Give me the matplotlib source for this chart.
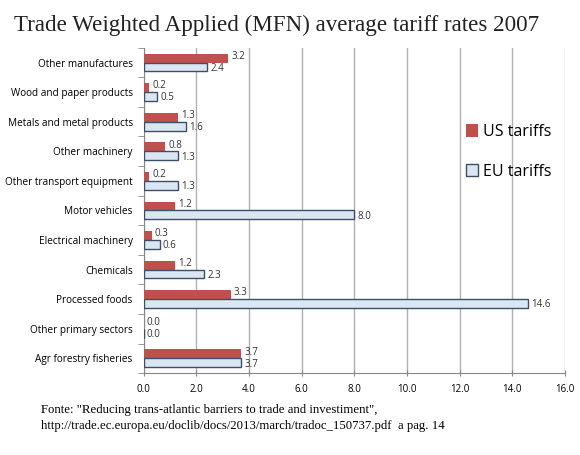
import numpy as np
import matplotlib.pyplot as plt

categories = ['Other manufactures', 'Wood and paper products', 'Metals and metal products',
              'Other machinery', 'Other transport equipment', 'Motor vehicles',
              'Electrical machinery', 'Chemicals', 'Processed foods',
              'Other primary sectors', 'Agr forestry fisheries']
us_tariffs = [3.2, 0.2, 1.3, 0.8, 0.2, 1.2, 0.3, 1.2, 3.3, 0.0, 3.7]
eu_tariffs = [2.4, 0.5, 1.6, 1.3, 1.3, 8.0, 0.6, 2.3, 14.6, 0.0, 3.7]
xticks = np.arange(0, 17, 2)

fig = plt.figure(figsize=(5.8, 4.55), dpi=100)
ax = fig.add_axes([0.248, 0.180, 0.726, 0.715])

n = len(categories)
y = np.arange(n)[::-1]  # first category at the top
h = 0.3

ax.barh(y + h / 2, us_tariffs, height=h, color='#c0504d', label='US tariffs', zorder=3)
ax.barh(y - h / 2, eu_tariffs, height=h, color='#dce6f2', edgecolor='#3b5068',
        linewidth=1.0, label='EU tariffs', zorder=3)

sans = ['Open Sans', 'DejaVu Sans']
lab_font = dict(fontsize=7, family=sans, color='#333333')
for yi, v in zip(y, us_tariffs):
    ax.text(v + 0.12, yi + h * 0.7, f'{v:.1f}', va='center', ha='left', **lab_font)
for yi, v in zip(y, eu_tariffs):
    ax.text(v + 0.12, yi - h * 0.65, f'{v:.1f}', va='center', ha='left', **lab_font)

ax.set_xlim(0, 16)
ax.set_ylim(-0.5, n - 0.5)
ax.set_xticks(xticks)
ax.set_xticklabels([f'{t:.1f}' for t in xticks], fontsize=7, family=sans)
ax.set_yticks(y)
ax.set_yticklabels(categories, fontsize=7.2, family=sans)
ax.tick_params(axis='y', length=0, pad=8)
ax.set_yticks(np.arange(-0.5, n, 1), minor=True)
ax.tick_params(axis='y', which='minor', length=4, color='#888888', direction='out')
ax.tick_params(axis='x', length=4, color='#888888', direction='inout', pad=6)

ax.grid(axis='x', color='#b0b0b0', linewidth=1.0, zorder=0)
for s in ['top', 'right']:
    ax.spines[s].set_visible(False)
ax.spines['left'].set_color('#888888')
ax.spines['bottom'].set_color('#888888')

ax.legend(loc='upper left', bbox_to_anchor=(0.73, 0.81), frameon=False,
          prop={'family': sans, 'size': 11.5},
          handlelength=0.8, handleheight=0.8, handletextpad=0.3, labelspacing=1.5)

fig.text(0.025, 0.945, 'Trade Weighted Applied (MFN) average tariff rates 2007',
         family='Liberation Serif', fontsize=16.6, va='center', color='#222222')
fig.text(0.07, 0.098, 'Fonte: "Reducing trans-atlantic barriers to trade and investiment",',
         family='Liberation Serif', fontsize=9.2, va='center')
fig.text(0.07, 0.063, 'http://trade.ec.europa.eu/doclib/docs/2013/march/tradoc_150737.pdf  a pag. 14',
         family='Liberation Serif', fontsize=9.2, va='center')

fig.savefig('out.png', dpi=100)
